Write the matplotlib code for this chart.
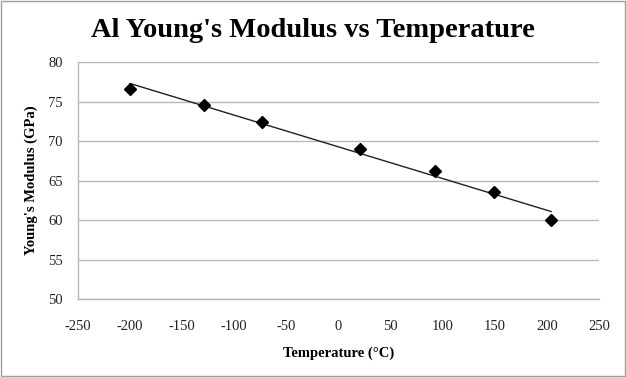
import matplotlib.pyplot as plt
import numpy as np
from matplotlib.patches import Rectangle

temps = [-200, -129, -73, 21, 93, 149, 204]
modulus = [76.6, 74.5, 72.4, 69.0, 66.2, 63.5, 60.0]
xticks = list(range(-250, 251, 50))
yticks = list(range(50, 81, 5))

plt.rcParams["font.family"] = ["Liberation Serif", "DejaVu Serif"]

fig = plt.figure(figsize=(6.26, 3.77), dpi=100)
fig.patches.append(Rectangle((0.001, 0.002), 0.997, 0.995, transform=fig.transFigure,
                             fill=False, edgecolor="#a0a0a0", linewidth=1))
ax = fig.add_axes([0.1246, 0.2069, 0.8323, 0.6286])

# linear trend line over the data range
coef = np.polyfit(temps, modulus, 1)
tx = np.array([min(temps), max(temps)])
ax.plot(tx, np.polyval(coef, tx), color="#202020", linewidth=1, zorder=2)
ax.plot(temps, modulus, linestyle="none", marker="D", markersize=6.5,
        color="black", zorder=3)

ax.set_xlim(-250, 250)
ax.set_ylim(50, 80)
ax.set_xticks(xticks)
ax.set_yticks(yticks)
ax.set_xticklabels([str(t) for t in xticks])
ax.tick_params(length=0, labelsize=10.5, colors="#222222")
ax.tick_params(axis="x", pad=15)
ax.tick_params(axis="y", pad=11)
ax.grid(axis="y", color="#b8b8b8", linewidth=1)
ax.set_axisbelow(True)
for s in ("top", "right"):
    ax.spines[s].set_visible(False)
for s in ("left", "bottom"):
    ax.spines[s].set_color("#b8b8b8")
    ax.spines[s].set_linewidth(1)

ax.set_xlabel("Temperature (°C)", fontsize=10.5, fontweight="bold", labelpad=10)
ax.set_ylabel("Young's Modulus (GPa)", fontsize=10.5, fontweight="bold", labelpad=7)
fig.text(0.5, 0.92, "Al Young's Modulus vs Temperature", ha="center", va="center",
         fontsize=20.5, fontweight="bold")

fig.savefig("out.png", dpi=100)
